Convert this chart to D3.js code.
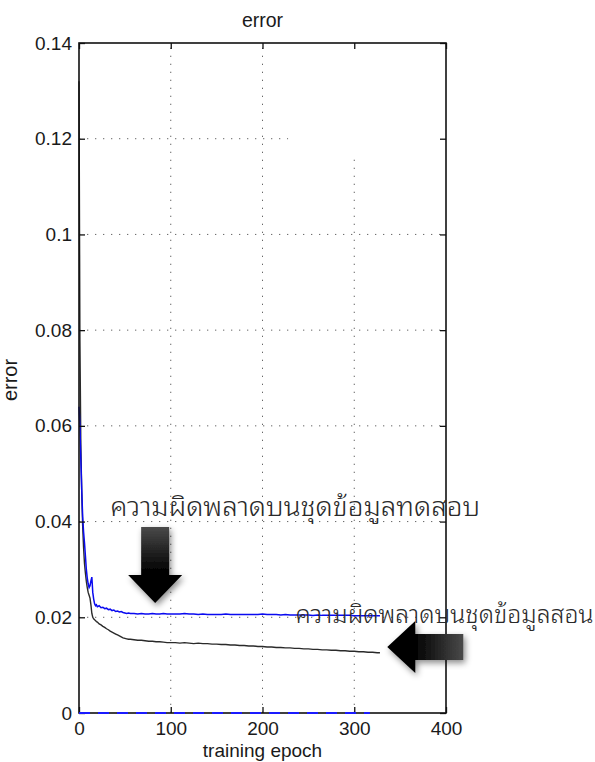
<!DOCTYPE html>
<html>
<head>
<meta charset="utf-8">
<script src="https://cdn.jsdelivr.net/npm/d3@7"></script>
<style>
  body { margin: 0; background: #fff; }
  svg { display: block; }
</style>
</head>
<body>
<svg id="chart" width="595" height="762"></svg>
<script>
// ---------------- DATA ----------------
const epochs = [
  0,1,2,3,4,5,6,7,8,9,10,11,12,13,14,15,16,17,18,19,
  20,22,24,26,28,30,32,34,36,38,40,42,44,46,48,50,52,
  54,56,
  60,64,68,72,76,80,84,88,92,96,100,
  105,110,115,120,125,130,135,140,145,150,155,160,165,170,175,180,185,190,195,200,
  205,210,215,220,225,230,235,240,245,250,255,260,265,270,275,280,285,290,295,300,
  305,310,315,320,325,
  328
];
// test-set error (blue)
const testErr = [
  0.0640,0.0600,0.0530,0.0465,0.0410,0.0378,0.0355,0.0328,0.0300,0.0282,
  0.0270,0.0262,0.0266,0.0276,0.0284,0.0252,0.0238,0.0228,0.0224,0.0226,
  0.0222,0.0224,0.0220,0.0221,0.0218,0.0219,0.0216,0.0217,0.0214,0.0215,0.0212,0.0213,0.0211,0.0212,0.0210,0.0209,0.0208,
  0.0209,0.0208,
  0.0208,0.0207,0.0208,0.0207,0.0207,0.0208,0.0207,0.0207,0.0208,0.0207,0.0207,
  0.0207,0.0207,0.0208,0.0207,0.0207,
  0.0206,0.0207,0.0206,0.0206,0.0206,
  0.0206,0.0207,0.0206,0.0206,0.0206,
  0.0206,0.0206,0.0206,0.0206,0.0207,
  0.0206,0.0206,0.0206,0.0205,0.0206,
  0.0205,0.0205,0.0205,0.0205,0.0205,
  0.0204,0.0205,0.0204,0.0204,0.0204,
  0.0204,0.0204,0.0204,0.0204,0.0203,
  0.0203,0.0203,0.0203,0.0203,0.0203,
  0.0203
];
// training-set error (black)
const trainErr = [
  0.1320,0.0780,0.0560,0.0460,0.0390,0.0345,0.0312,0.0292,0.0275,0.0262,
  0.0252,0.0246,0.0240,0.0226,0.0208,0.0200,0.0197,0.0195,0.0193,0.0191,
  0.0190,0.0186,0.0184,0.0181,0.0179,0.0176,0.0174,0.0171,0.0169,0.0167,0.0165,0.0163,0.0161,0.0159,0.0157,0.0156,0.0155,
  0.0154,0.0154,
  0.0153,0.0152,0.0152,0.0151,0.0150,0.0150,0.0149,0.0149,0.0148,0.0147,0.0147,
  0.0147,0.0146,0.0147,0.0146,0.0145,
  0.0146,0.0145,0.0145,0.0144,0.0144,
  0.0143,0.0143,0.0142,0.0142,0.0141,
  0.0141,0.0140,0.0140,0.0139,0.0139,
  0.0138,0.0138,0.0137,0.0137,0.0136,
  0.0136,0.0135,0.0135,0.0134,0.0134,
  0.0133,0.0133,0.0132,0.0132,0.0131,
  0.0131,0.0130,0.0130,0.0129,0.0129,
  0.0128,0.0128,0.0127,0.0127,0.0126,
  0.0126
];
// third series lying on zero (dashed blue)
const zeroEpochs = [0, 317];
const zeroErr = [0, 0];

const xTicks = [0, 100, 200, 300, 400];
const xTickLabels = ["0", "100", "200", "300", "400"];
const yTicks = [0, 0.02, 0.04, 0.06, 0.08, 0.10, 0.12, 0.14];
const yTickLabels = ["0", "0.02", "0.04", "0.06", "0.08", "0.1", "0.12", "0.14"];
const xDomain = [0, 400];
const yDomain = [0, 0.14];

const titleText = "error";
const xLabelText = "training epoch";
const yLabelText = "error";
const testNote = "ความผิดพลาดบนชุดข้อมูลทดสอบ";
const trainNote = "ความผิดพลาดบนชุดข้อมูลสอน";
// annotation anchors (data coordinates)
const testNoteAt = [34, 0.0412];
const trainNoteAt = [236, 0.0188];
const downArrowTip = [83, 0.0230];
const leftArrowTip = [336, 0.0138];
const erasedLegend = [[228, 0.14], [400, 0.1166]];

// ---------------- CHART ----------------
const svg = d3.select("#chart");
const L = 79, R = 446, T = 43, B = 713;
const x = d3.scaleLinear().domain(xDomain).range([L, R]);
const y = d3.scaleLinear().domain(yDomain).range([B, T]);
const font = "'Liberation Sans', Arial, Helvetica, sans-serif";
const thaiFont = "'Noto Sans Thai Looped','Noto Sans Thai','Loma','Garuda','Waree','Tlwg Typo','Tahoma','DejaVu Sans',sans-serif";

const defs = svg.append("defs");
const sh = defs.append("filter").attr("id", "shadow")
  .attr("x", "-40%").attr("y", "-40%").attr("width", "180%").attr("height", "180%");
sh.append("feDropShadow").attr("dx", 2).attr("dy", 3).attr("stdDeviation", 3)
  .attr("flood-color", "#000").attr("flood-opacity", 0.45);
const gd = defs.append("linearGradient").attr("id", "gDown")
  .attr("x1", 0).attr("y1", 0).attr("x2", 0).attr("y2", 1);
gd.append("stop").attr("offset", "0").attr("stop-color", "#4a4a4a");
gd.append("stop").attr("offset", "0.6").attr("stop-color", "#000");
const gl = defs.append("linearGradient").attr("id", "gLeft")
  .attr("x1", 0).attr("y1", 0).attr("x2", 1).attr("y2", 0);
gl.append("stop").attr("offset", "0.35").attr("stop-color", "#000");
gl.append("stop").attr("offset", "1").attr("stop-color", "#4a4a4a");

// grid
const grid = svg.append("g").attr("stroke", "#666").attr("stroke-width", 1)
  .attr("stroke-dasharray", "1.3,6.7");
grid.selectAll(".gx").data(xTicks.filter(d => d > xDomain[0] && d < xDomain[1]))
  .join("line").attr("x1", d => x(d)).attr("x2", d => x(d))
  .attr("y1", y(yDomain[0])).attr("y2", y(yDomain[1]));
grid.selectAll(".gy").data(yTicks.filter(d => d > yDomain[0] && d < yDomain[1]))
  .join("line").attr("y1", d => y(d)).attr("y2", d => y(d))
  .attr("x1", x(xDomain[0])).attr("x2", x(xDomain[1]));
// erased legend area
svg.append("rect")
  .attr("x", x(erasedLegend[0][0])).attr("y", y(erasedLegend[0][1]) + 1)
  .attr("width", x(erasedLegend[1][0]) - x(erasedLegend[0][0]) - 1)
  .attr("height", y(erasedLegend[1][1]) - y(erasedLegend[0][1]))
  .attr("fill", "#fff");

// lines
const line = d3.line().x(d => x(d[0])).y(d => y(d[1]));
svg.append("path").datum(epochs.map((e, i) => [e, trainErr[i]]))
  .attr("d", line).attr("fill", "none").attr("stroke", "#2a2a2a").attr("stroke-width", 1.4);
svg.append("path").datum(epochs.map((e, i) => [e, testErr[i]]))
  .attr("d", line).attr("fill", "none").attr("stroke", "#0a0af0").attr("stroke-width", 1.5);

// axes (inward ticks, box)
const fmtX = d => xTickLabels[xTicks.indexOf(d)];
const fmtY = d => yTickLabels[yTicks.findIndex(v => Math.abs(v - d) < 1e-9)];
const gB = svg.append("g").attr("transform", `translate(0,${B})`)
  .call(d3.axisBottom(x).tickValues(xTicks).tickFormat(fmtX).tickSize(-6).tickPadding(9));
const gLft = svg.append("g").attr("transform", `translate(${L},0)`)
  .call(d3.axisLeft(y).tickValues(yTicks).tickFormat(fmtY).tickSize(-6).tickPadding(7));
const gTop = svg.append("g").attr("transform", `translate(0,${T})`)
  .call(d3.axisTop(x).tickValues(xTicks).tickFormat("").tickSize(-6));
const gRt = svg.append("g").attr("transform", `translate(${R},0)`)
  .call(d3.axisRight(y).tickValues(yTicks).tickFormat("").tickSize(-6));
[gB, gLft, gTop, gRt].forEach(g => {
  g.select(".domain").remove();
  g.selectAll(".tick line").attr("stroke", "#111").attr("stroke-width", 1.3);
  g.selectAll("text").attr("font-family", font).attr("font-size", 19).attr("fill", "#1a1a1a");
});
svg.append("rect").attr("x", L).attr("y", T).attr("width", R - L).attr("height", B - T)
  .attr("fill", "none").attr("stroke", "#111").attr("stroke-width", 1.6);

// zero dashed series
svg.append("path").datum(zeroEpochs.map((e, i) => [e, zeroErr[i]]))
  .attr("d", line).attr("fill", "none").attr("stroke", "#1a1aff").attr("stroke-width", 2.2)
  .attr("stroke-dasharray", "11,8");

// titles
svg.append("text").attr("x", (L + R) / 2).attr("y", 27).attr("text-anchor", "middle")
  .attr("font-family", font).attr("font-size", 19.5).attr("fill", "#1a1a1a").text(titleText);
svg.append("text").attr("x", (L + R) / 2).attr("y", 757).attr("text-anchor", "middle")
  .attr("font-family", font).attr("font-size", 19).attr("fill", "#1a1a1a").text(xLabelText);
svg.append("text").attr("transform", `translate(17,${(T + B) / 2 + 2}) rotate(-90)`)
  .attr("text-anchor", "middle")
  .attr("font-family", font).attr("font-size", 20).attr("fill", "#1a1a1a").text(yLabelText);

// annotations
svg.append("path")
  .attr("transform", `translate(${x(downArrowTip[0])},${y(downArrowTip[1])})`)
  .attr("d", "M0,0 L-27,-28 L-14,-28 L-14,-76 L14,-76 L14,-28 L27,-28 Z")
  .attr("fill", "url(#gDown)").attr("filter", "url(#shadow)");
svg.append("path")
  .attr("transform", `translate(${x(leftArrowTip[0])},${y(leftArrowTip[1])})`)
  .attr("d", "M0,0 L28,-26 L28,-13 L76,-13 L76,13 L28,13 L28,26 Z")
  .attr("fill", "url(#gLeft)").attr("filter", "url(#shadow)");

svg.append("text").attr("x", x(testNoteAt[0])).attr("y", y(testNoteAt[1]))
  .attr("font-family", thaiFont).attr("font-size", 26).attr("font-weight", 300).attr("fill", "#2a2a2a")
  .attr("textLength", 370).attr("lengthAdjust", "spacingAndGlyphs").text(testNote);
svg.append("text").attr("x", x(trainNoteAt[0])).attr("y", y(trainNoteAt[1]))
  .attr("font-family", thaiFont).attr("font-size", 24).attr("font-weight", 300).attr("fill", "#2a2a2a")
  .attr("textLength", 298).attr("lengthAdjust", "spacingAndGlyphs").text(trainNote);
</script>
</body>
</html>
